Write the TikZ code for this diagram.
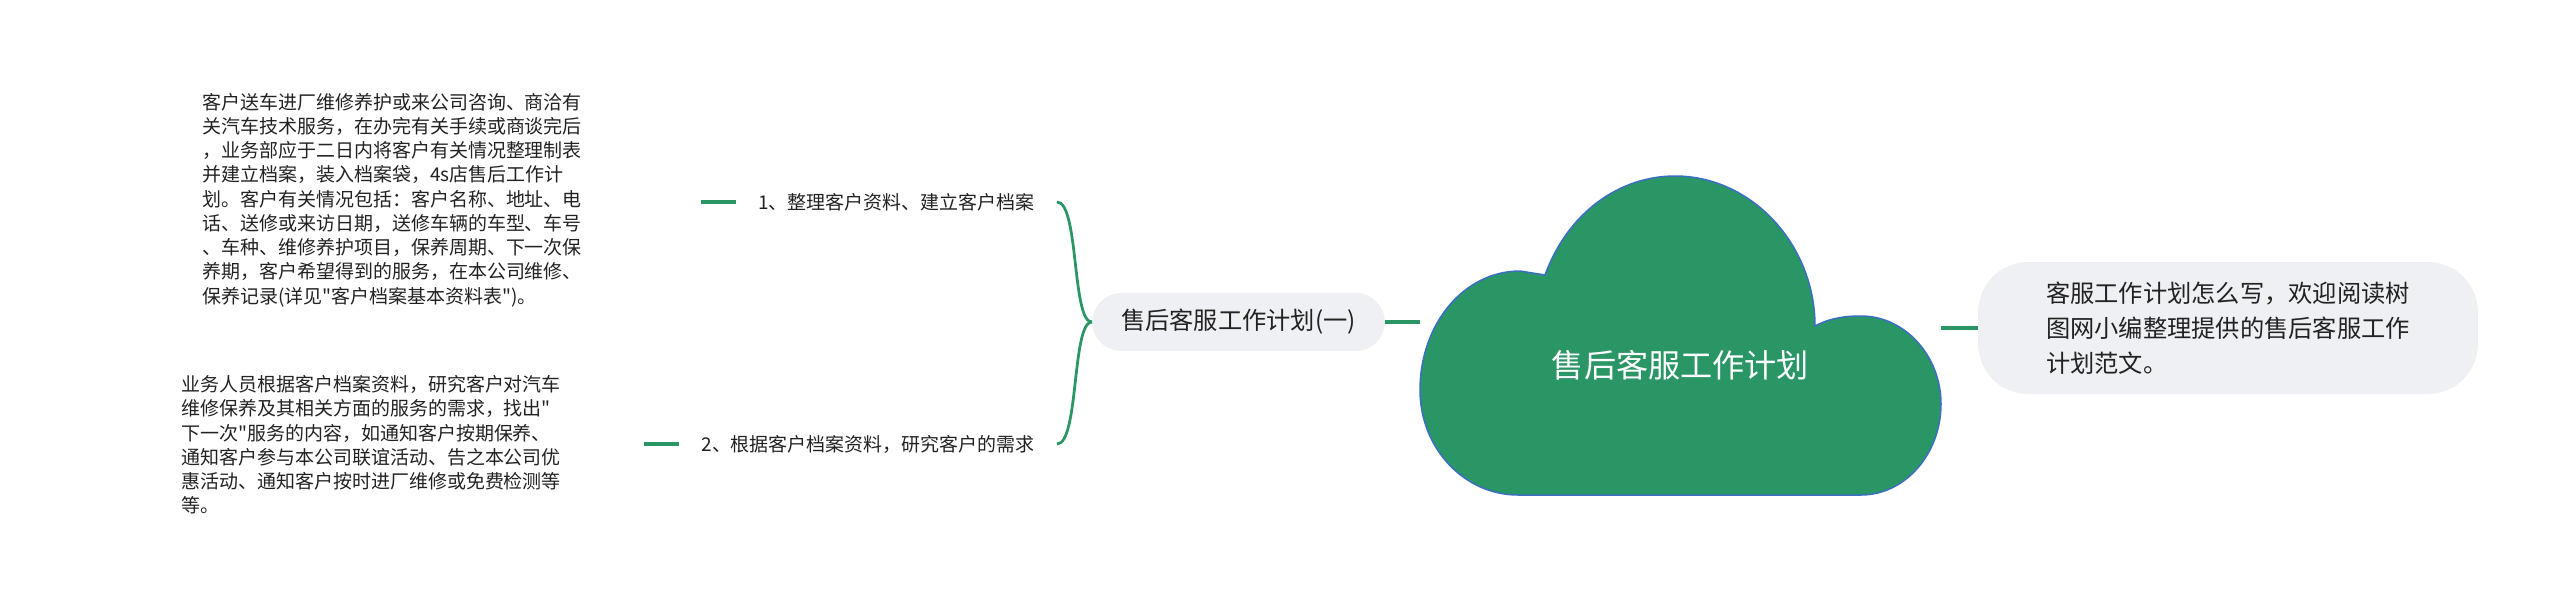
\documentclass[tikz,border=0pt]{standalone}
\usepackage{fontspec}
\newfontfamily\cjk{Noto Sans CJK SC}
\usepackage{tikz}
\usetikzlibrary{positioning}
\definecolor{mapgreen}{HTML}{2A9665}
\definecolor{cloudedge}{HTML}{3A6FC4}
\definecolor{pillgray}{HTML}{EEF0F3}
\definecolor{inkgray}{HTML}{222222}

\begin{document}
\begin{tikzpicture}[x=0.2mm,y=-0.2mm,
  branch/.style={draw=mapgreen, line width=0.8mm},
  brace/.style={draw=mapgreen, line width=0.55mm},
  pill/.style={fill=pillgray, rounded corners=5.8mm, text=inkgray, font=\cjk\fontsize{13.8}{19.9}\selectfont},
  leaf/.style={text=inkgray, font=\cjk\fontsize{10.8}{13.8}\selectfont, inner ysep=0pt, inner xsep=4.4mm},
  note/.style={text=inkgray, align=left, font=\cjk\fontsize{10.8}{13.8}\selectfont, inner sep=0pt}]
\useasboundingbox (0,0) rectangle (2560,608);
% Cloud (root)
\draw[fill=mapgreen, draw=cloudedge, line width=0.3mm]
  (1518,495) .. controls (1464,495) and (1420,448) .. (1420,390)
  .. controls (1420,324) and (1464,271) .. (1520,271)
  -- (1545,275) .. controls (1568,212) and (1620,176) .. (1675,176)
  .. controls (1752,176) and (1815,245) .. (1815,326)
  .. controls (1830,318) and (1845,316) .. (1861,316)
  .. controls (1905,316) and (1941,356) .. (1941,404)
  .. controls (1941,454) and (1905,495) .. (1861,495) -- cycle;
\node[text=white, font=\cjk\fontsize{18.3}{22}\selectfont, minimum width=104.2mm, inner sep=0pt] (root) at (1680.5,365) {售后客服工作计划};
% Left branch
\node[pill, inner xsep=5.8mm, minimum height=11.6mm] (sub) at (1238.5,322) {售后客服工作计划(一)};
\draw[branch] (sub.east) -- (sub.east -| root.west);
% Right branch
\node[pill, rounded corners=10mm, align=left, inner xsep=13.6mm, minimum height=26.4mm] (intro) at (2228,328)
  {客服工作计划怎么写，欢迎阅读树\\图网小编整理提供的售后客服工作\\计划范文。};
\draw[branch] (intro.west) -- (intro.west -| root.east);
% Topics
\node[leaf, anchor=east] (l1) at (1057,202) {1、整理客户资料、建立客户档案};
\node[leaf, anchor=east] (l2) at (1057,444) {2、根据客户档案资料，研究客户的需求};
\draw[brace] (sub.west) .. controls +(-20,0) and +(22,0) .. (l1.east);
\draw[brace] (sub.west) .. controls +(-20,0) and +(22,0) .. (l2.east);
\coordinate (e1) at ([xshift=-7mm]l1.west);
\coordinate (e2) at ([xshift=-7mm]l2.west);
\draw[branch] (l1.west) -- (e1);
\draw[branch] (l2.west) -- (e2);
% Notes
\node[note, anchor=west] (n1) at (202,200) {客户送车进厂维修养护或来公司咨询、商洽有\\关汽车技术服务，在办完有关手续或商谈完后\\，业务部应于二日内将客户有关情况整理制表\\并建立档案，装入档案袋，4s店售后工作计\\划。客户有关情况包括：客户名称、地址、电\\话、送修或来访日期，送修车辆的车型、车号\\、车种、维修养护项目，保养周期、下一次保\\养期，客户希望得到的服务，在本公司维修、\\保养记录(详见"客户档案基本资料表")。};
\node[note, anchor=west] (n2) at (181,445) {业务人员根据客户档案资料，研究客户对汽车\\维修保养及其相关方面的服务的需求，找出"\\下一次"服务的内容，如通知客户按期保养、\\通知客户参与本公司联谊活动、告之本公司优\\惠活动、通知客户按时进厂维修或免费检测等\\等。};
\end{tikzpicture}
\end{document}
